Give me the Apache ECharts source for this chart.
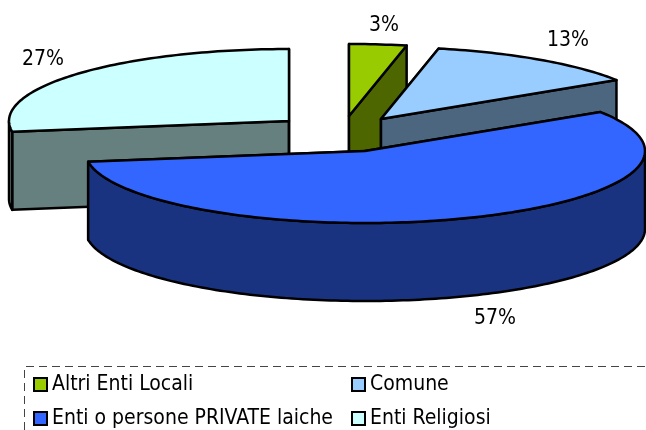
<!DOCTYPE html>
<html>
<head>
<meta charset="utf-8">
<style>
  html, body { margin: 0; padding: 0; background: #fff; }
  #chart { width: 646px; height: 430px; }
</style>
<script src="https://cdn.jsdelivr.net/npm/echarts@6/dist/echarts.min.js"></script>
</head>
<body>
<div id="chart"></div>
<script>
// data
var categories = ["Altri Enti Locali", "Comune", "Enti o persone PRIVATE laiche", "Enti Religiosi"];
var shares = [3.3, 12.6, 56.7, 27.4];
var topColors = ["#99cc00", "#99ccff", "#3366ff", "#ccffff"];
var sideColors = ["#4d6600", "#4d6680", "#1a3380", "#667f7f"];

// layout of the exploded pie
var radiusX = 280;
var radiusY = 72;
var depth = 78;
var apexes = [[349, 116], [381, 119], [365, 151], [289, 121]];
var labelPos = [[384, 26], [568, 41], [495, 319], [43, 60]];
var drawOrder = [0, 1, 3, 2];
var fontName = "'DejaVu Sans Condensed', 'DejaVu Sans', sans-serif";

var total = shares.reduce(function (a, b) { return a + b; }, 0);

function sliceAngles(i) {
  var before = 0;
  for (var k = 0; k < i; k++) before += shares[k];
  return [before / total * 2 * Math.PI, (before + shares[i]) / total * 2 * Math.PI];
}

function rimPoint(apex, a, dy) {
  return [apex[0] + radiusX * Math.sin(a), apex[1] - radiusY * Math.cos(a) + (dy || 0)];
}

function arcPoints(apex, a0, a1, dy) {
  var pts = [];
  var n = Math.max(2, Math.ceil((a1 - a0) / 0.02));
  for (var k = 0; k <= n; k++) {
    pts.push(rimPoint(apex, a0 + (a1 - a0) * k / n, dy));
  }
  return pts;
}

function face(points, color) {
  return {
    type: "polygon",
    shape: { points: points },
    style: { fill: color, stroke: "#000", lineWidth: 2.5, lineJoin: "round" }
  };
}

function cutFace(apex, a, color) {
  var rim = rimPoint(apex, a);
  return face([apex, rim, [rim[0], rim[1] + depth], [apex[0], apex[1] + depth]], color);
}

function renderSlice(i) {
  var angles = sliceAngles(i);
  var apex = apexes[i];
  var kids = [];
  kids.push(cutFace(apex, angles[0], sideColors[i]));
  kids.push(cutFace(apex, angles[1], sideColors[i]));

  // outer wall, only the part turned towards the viewer
  var from = Math.max(angles[0], Math.PI / 2);
  var to = Math.min(angles[1], Math.PI * 1.5);
  if (to > from) {
    var up = arcPoints(apex, from, to, 0);
    var down = arcPoints(apex, from, to, depth).reverse();
    kids.push(face(up.concat(down), sideColors[i]));
  }

  kids.push(face([apex].concat(arcPoints(apex, angles[0], angles[1], 0)), topColors[i]));
  kids.push({
    type: "text",
    z2: 10,
    style: {
      x: labelPos[i][0],
      y: labelPos[i][1],
      text: Math.round(shares[i] / total * 100) + "%",
      fill: "#000",
      font: "21px " + fontName,
      align: "center",
      verticalAlign: "middle"
    }
  });
  return { type: "group", children: kids };
}

var series = drawOrder.map(function (i) {
  return {
    type: "custom",
    name: categories[i],
    coordinateSystem: "none",
    itemStyle: { color: topColors[i] },
    data: [[shares[i]]],
    renderItem: function () { return renderSlice(i); }
  };
});

function legendColumn(names, left) {
  return {
    orient: "vertical",
    left: left,
    top: 374,
    height: 90,
    padding: 0,
    icon: "rect",
    itemWidth: 13,
    itemHeight: 13,
    itemGap: 13,
    selectedMode: false,
    data: names,
    itemStyle: { borderColor: "#000", borderWidth: 2 },
    textStyle: { color: "#000", fontSize: 21, fontFamily: fontName }
  };
}

var myChart = echarts.init(document.getElementById("chart"), null, { renderer: "canvas" });
myChart.setOption({
  backgroundColor: "#fff",
  animation: false,
  legend: [
    legendColumn([categories[0], categories[2]], 33),
    legendColumn([categories[1], categories[3]], 351)
  ],
  graphic: [
    {
      type: "polyline",
      silent: true,
      shape: { points: [[24.5, 430], [24.5, 366.5], [646, 366.5]] },
      style: { fill: "none", stroke: "#444", lineWidth: 1, lineDash: [8, 5] }
    }
  ],
  series: series
});
</script>
</body>
</html>
